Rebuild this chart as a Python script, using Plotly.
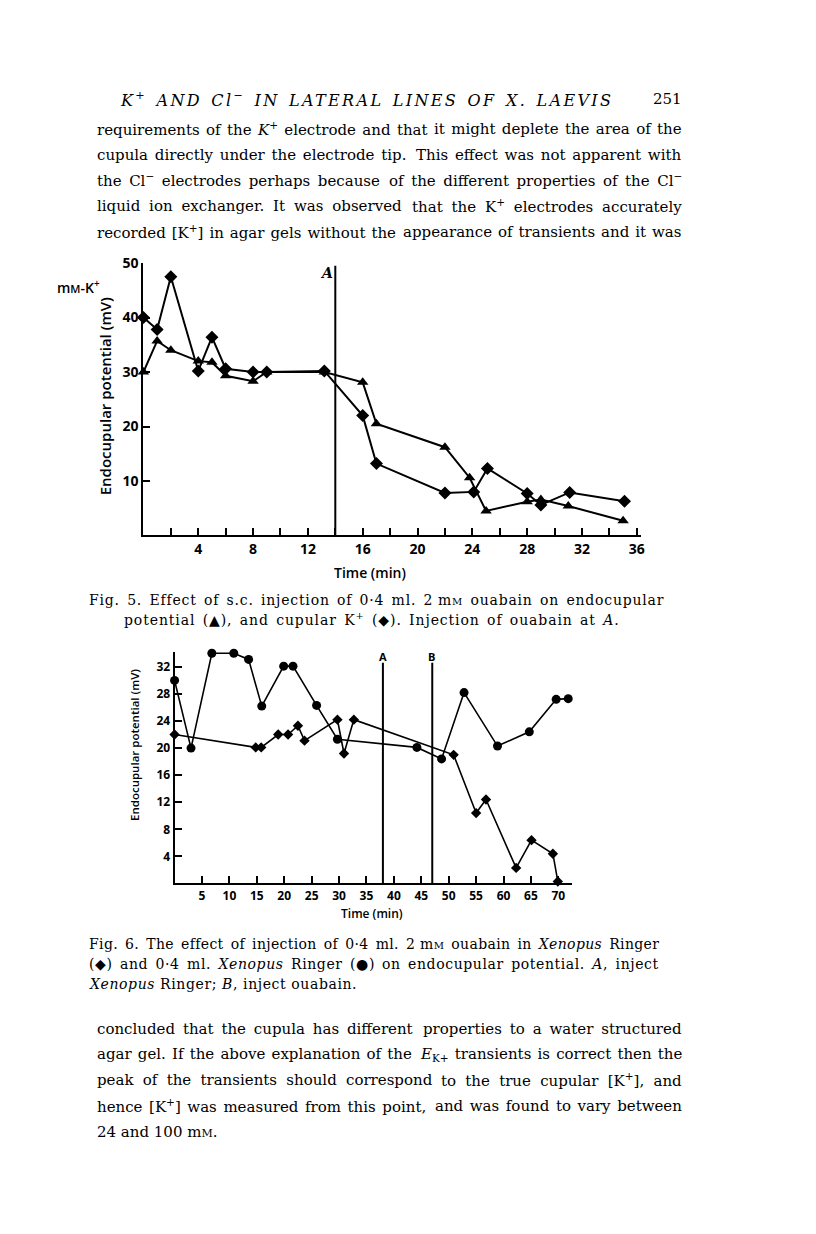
import plotly.graph_objects as go

# Page geometry: the photographed page is slightly reduced (~0.99) and the plot div
# starts at about (8, 19) on the page; target pixel positions are mapped accordingly.
S = 0.9903
ORIGIN_X, ORIGIN_Y = 8, 19
W, H = 808, 1219


def px(x):
    return (x / S - ORIGIN_X) / W


def py(y):
    return 1 - (y / S - ORIGIN_Y) / H


# ---------------- Fig. 5 data ----------------
fig5_tri_t = [0, 1, 2, 4, 5, 6, 8, 9, 13.2, 16, 17, 22, 23.8, 25, 28, 29, 31, 35]
fig5_tri_v = [30, 35.7, 34, 32, 31.8, 29.3, 28.3, 30, 30, 28.1, 20.5, 16.2, 10.6, 4.5, 6.2, 6.6, 5.4, 2.7]
fig5_dia_t = [0, 1, 2, 4, 5, 6, 8, 9, 13.2, 16, 17, 22, 24.1, 25.1, 28, 29, 31.1, 35.1]
fig5_dia_v = [40, 37.8, 47.5, 30.2, 36.4, 30.6, 30.0, 30.0, 30.2, 22, 13.2, 7.8, 8.0, 12.3, 7.7, 5.6, 7.9, 6.3]
fig5_inject_A = 14
fig5_xticks = [4, 8, 12, 16, 20, 24, 28, 32, 36]
fig5_yticks = [10, 20, 30, 40, 50]

# ---------------- Fig. 6 data ----------------
fig6_circ_t = [0, 3, 6.8, 10.8, 13.5, 15.9, 19.9, 21.6, 25.9, 29.7, 44.2, 48.7, 52.8, 58.9, 64.7, 69.6, 71.8]
fig6_circ_v = [30, 20, 34, 34, 33.1, 26.2, 32.1, 32.1, 26.3, 21.3, 20.1, 18.4, 28.2, 20.3, 22.4, 27.2, 27.3]
fig6_dia_t = [0, 14.8, 15.8, 18.9, 20.7, 22.5, 23.7, 29.7, 30.9, 32.7, 50.9, 55.0, 56.8, 62.3, 65.1, 69.0, 69.9]
fig6_dia_v = [22, 20.1, 20.1, 22, 22, 23.3, 21.1, 24.2, 19.2, 24.2, 19.0, 10.4, 12.4, 2.3, 6.4, 4.4, 0.3]
fig6_inject_A = 38
fig6_inject_B = 47
fig6_xticks = [5, 10, 15, 20, 25, 30, 35, 40, 45, 50, 55, 60, 65, 70]
fig6_yticks = [4, 8, 12, 16, 20, 24, 28, 32]

SERIF = "DejaVu Serif"
SANS = "Open Sans"

fig = go.Figure()

# Fig 5 traces
fig.add_trace(go.Scatter(x=fig5_tri_t, y=fig5_tri_v, mode="lines+markers",
                         line=dict(color="black", width=2),
                         marker=dict(symbol="triangle-up", size=10, color="black"),
                         xaxis="x", yaxis="y", cliponaxis=False, showlegend=False))
fig.add_trace(go.Scatter(x=fig5_dia_t, y=fig5_dia_v, mode="lines+markers",
                         line=dict(color="black", width=2),
                         marker=dict(symbol="diamond", size=10, color="black"),
                         xaxis="x", yaxis="y", cliponaxis=False, showlegend=False))

# Fig 6 traces
fig.add_trace(go.Scatter(x=fig6_circ_t, y=fig6_circ_v, mode="lines+markers",
                         line=dict(color="black", width=1.6),
                         marker=dict(symbol="circle", size=9, color="black"),
                         xaxis="x2", yaxis="y2", cliponaxis=False, showlegend=False))
fig.add_trace(go.Scatter(x=fig6_dia_t, y=fig6_dia_v, mode="lines+markers",
                         line=dict(color="black", width=1.6),
                         marker=dict(symbol="diamond", size=8, color="black"),
                         xaxis="x2", yaxis="y2", cliponaxis=False, showlegend=False))

tickfont5 = dict(family=SANS, size=14, color="black", weight=700)
tickfont6 = dict(family=SANS, size=12, color="black", weight=700)

common = dict(showline=True, linecolor="black", linewidth=2, showgrid=False, zeroline=False,
              ticks="inside", tickcolor="black", tickwidth=2)

fig.update_layout(
    width=W, height=H, margin=dict(l=0, r=0, t=0, b=0),
    paper_bgcolor="white", plot_bgcolor="rgba(0,0,0,0)", showlegend=False,
    xaxis=dict(domain=[px(142.7), px(142.7 + 36.3 * 13.64)], range=[0, 36.3], anchor="y",
               tickvals=fig5_xticks, ticklen=7, tickfont=tickfont5,
               minor=dict(dtick=2, tick0=0, ticks="inside", ticklen=7, tickwidth=2, tickcolor="black"),
               **common),
    yaxis=dict(domain=[py(535.5), py(263.5)], range=[0, 50], anchor="x",
               tickvals=fig5_yticks, ticklen=7, tickfont=tickfont5, **common),
    xaxis2=dict(domain=[px(173.7), px(569.3)], range=[0, 72.5], anchor="y2",
                tickvals=fig6_xticks, ticklen=7, tickfont=tickfont6, **common),
    yaxis2=dict(domain=[py(883), py(651.8)], range=[0, 34.2], anchor="x2",
                tickvals=fig6_yticks, ticklen=7, tickfont=tickfont6, **common),
)

shapes = [
    dict(type="line", xref="x", yref="y", x0=fig5_inject_A, x1=fig5_inject_A, y0=0, y1=49.5,
         line=dict(color="black", width=2)),
    dict(type="line", xref="x2", yref="y2", x0=fig6_inject_A, x1=fig6_inject_A, y0=0, y1=32.6,
         line=dict(color="black", width=2)),
    dict(type="line", xref="x2", yref="y2", x0=fig6_inject_B, x1=fig6_inject_B, y0=0, y1=32.6,
         line=dict(color="black", width=2)),
]
fig.update_layout(shapes=shapes)

ann = []


def text(x, y, s, size=15, family=SERIF, anchor="left", weight=None, angle=0, italic=False):
    f = dict(family=family, size=size, color="black")
    if weight:
        f["weight"] = weight
    if italic:
        f["style"] = "italic"
    ann.append(dict(x=px(x), y=py(y), xref="paper", yref="paper", text=s, showarrow=False,
                    xanchor=anchor, yanchor="middle", font=f, textangle=angle))


def spaced(s, ws=0.0, ls=0.0):
    return f"<span style='word-spacing:{ws:.2f}px;letter-spacing:{ls:.2f}px'>{s}</span>"


def justified(y, left, right, l, r, size=15, ws=0.0, ls=0.0, italic=False):
    text(l, y, spaced(left, ws, ls), size=size, anchor="left", italic=italic)
    text(r, y, spaced(right, ws, ls), size=size, anchor="right", italic=italic)


# Running header
text(117, 100, spaced("K<sup>+</sup> AND Cl<sup>−</sup> IN LATERAL LINES OF X. LAEVIS", ws=2, ls=2.35),
     size=16, italic=True)
text(681, 100, "251", size=15, anchor="right")

# Top paragraph
L, R = 95, 681
top_lines = [
    ("requirements of the <i>K</i><sup>+</sup> electrode and that", "it might deplete the area of the", 1.6),
    ("cupula directly under the electrode tip.", "This effect was not apparent with", 2.0),
    ("the Cl<sup>−</sup> electrodes perhaps because", "of the different properties of the Cl<sup>−</sup>", 2.8),
    ("liquid ion exchanger. It was observed", "that the K<sup>+</sup> electrodes accurately", 4.1),
    ("recorded [K<sup>+</sup>] in agar gels without the", "appearance of transients and it was", 1.2),
]
for i, (a, b, ws) in enumerate(top_lines):
    justified(130 + i * 25.5, a, b, L, R, ws=ws)

# Fig 5 labels
text(325, 273, "A", size=14, family=SERIF, anchor="center", italic=True, weight=700)
text(55, 287, "m<span style='font-size:11px'>M</span>-K<sup>+</sup>", size=14, family=SANS, weight=600)
text(104, 397, "Endocupular potential (mV)", size=15, family=SANS, anchor="center", weight=600, angle=-90)
text(368, 572, "Time (min)", size=14, family=SANS, anchor="center", weight=600)

# Fig 5 caption
justified(600, "Fig. 5. Effect of s.c. injection of 0·4 ml. 2",
          "m<span style='font-size:10px'>M</span> ouabain on endocupular", 87, 663, size=14, ls=0.8, ws=2.1)
text(121, 619, spaced("potential (▲), and cupular K<sup>+</sup> (◆). Injection of ouabain at <i>A</i>.", ws=2, ls=0.9),
     size=14)

# Fig 6 labels
text(381, 656, "A", size=11, family=SANS, anchor="center", weight=700)
text(429, 656, "B", size=11, family=SANS, anchor="center", weight=700)
text(134, 745, "Endocupular potential (mV)", size=11.5, family=SANS, anchor="center", weight=600, angle=-90)
text(370, 913, "Time (min)", size=12, family=SANS, anchor="center", weight=600)

# Fig 6 caption
justified(943, "Fig. 6. The effect of injection of 0·4 ml. 2",
          "m<span style='font-size:10px'>M</span> ouabain in <i>Xenopus</i> Ringer", 87, 658, size=14, ls=0.35, ws=2.3)
justified(963, "(◆) and 0·4 ml. <i>Xenopus</i> Ringer (●)",
          "on endocupular potential. <i>A</i>, inject", 87, 658, size=14, ls=0.6, ws=2.4)
text(87, 983, spaced("<i>Xenopus</i> Ringer; <i>B</i>, inject ouabain.", ls=0.6), size=14)

# Bottom paragraph
bottom_lines = [
    ("concluded that the cupula has different", "properties to a water structured", 3.1),
    ("agar gel. If the above explanation of the", "<i>E</i><sub>K+</sub> transients is correct then the", 1.4),
    ("peak of the transients should correspond", "to the true cupular [K<sup>+</sup>], and", 4.5),
    ("hence [K<sup>+</sup>] was measured from this point,", "and was found to vary between", 1.8),
]
for i, (a, b, ws) in enumerate(bottom_lines):
    justified(1028 + i * 25.7, a, b, L, R, ws=ws)
text(L, 1028 + 4 * 25.7, "24 and 100 m<span style='font-size:11px'>M</span>.", size=15)

fig.update_layout(annotations=ann)
fig.write_html("out.html")
